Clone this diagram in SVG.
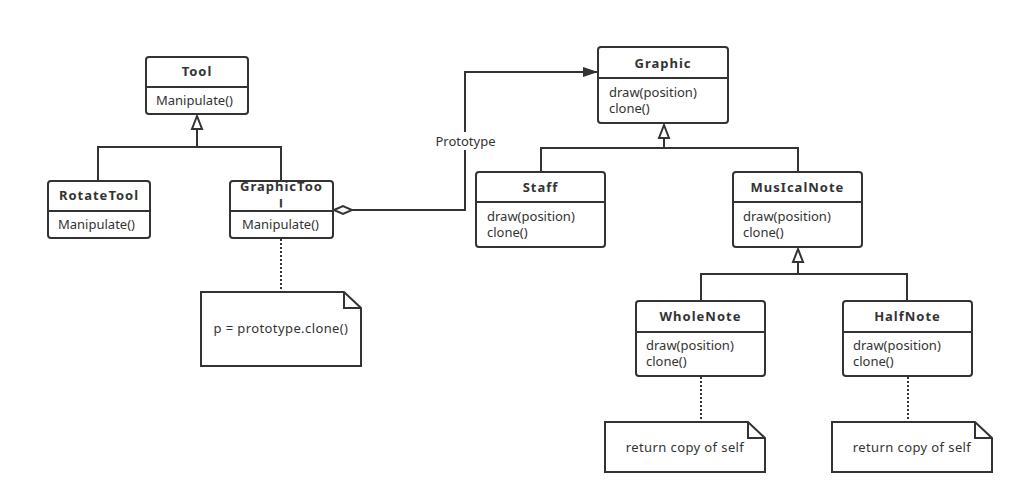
<svg xmlns="http://www.w3.org/2000/svg" width="1025" height="504" viewBox="0 0 1025 504">
<style>
.box{fill:#fff;stroke:#333;stroke-width:2}
.div{stroke:#333;stroke-width:2}
.ln{fill:none;stroke:#333;stroke-width:2}
.dot{fill:none;stroke:#333;stroke-width:2;stroke-dasharray:2 2}
.t{font-family:"Noto Sans","Open Sans",sans-serif;font-size:13px;font-weight:bold;fill:#333;text-anchor:middle;letter-spacing:1px}
.m{font-family:"Noto Sans","Open Sans",sans-serif;font-size:13px;fill:#333}
.c{text-anchor:middle}
.n{letter-spacing:0.4px}
.note{fill:#fff;stroke:#333;stroke-width:2}
</style>
<defs>
<marker id="inh" markerWidth="16" markerHeight="14" refX="14" refY="7" orient="auto" markerUnits="userSpaceOnUse">
<path d="M14,7 L1,2 L1,12 Z" fill="#fff" stroke="#333" stroke-width="2"/>
</marker>
<marker id="arr" markerWidth="16" markerHeight="12" refX="15" refY="6" orient="auto" markerUnits="userSpaceOnUse">
<path d="M0,1 L15,6 L0,11 Z" fill="#333"/>
</marker>
<marker id="dia" markerWidth="22" markerHeight="12" refX="1" refY="6" orient="auto" markerUnits="userSpaceOnUse">
<path d="M1,6 L10,2 L19,6 L10,10 Z" fill="#fff" stroke="#333" stroke-width="2"/>
</marker>
<clipPath id="gtclip"><rect x="231" y="182" width="101" height="25.5"/></clipPath>
</defs>
<g id="connectors">
<path class="ln" d="M98,181 V147 H281 V181"/>
<path class="ln" d="M197,147 V116" marker-end="url(#inh)"/>
<path class="ln" d="M541,172 V148 H798 V172"/>
<path class="ln" d="M664,148 V125" marker-end="url(#inh)"/>
<path class="ln" d="M701,301 V274 H907 V301"/>
<path class="ln" d="M798,274 V249" marker-end="url(#inh)"/>
<path class="ln" d="M334,210 H465 V72 H598" marker-start="url(#dia)" marker-end="url(#arr)"/>
<rect x="433" y="132" width="65" height="18" fill="#fff"/>
<text class="m c" x="465.5" y="146">Prototype</text>
<path class="dot" d="M281,239 V292"/>
<path class="dot" d="M701,377 V422"/>
<path class="dot" d="M908,377 V422"/>
</g>
<g id="Tool">
<rect class="box" x="146" y="57" width="102" height="57" rx="3"/>
<line class="div" x1="146" y1="87" x2="248" y2="87"/>
<text class="t" x="197" y="76">Tool</text>
<text class="m" x="156" y="105">Manipulate()</text>
</g>
<g id="RotateTool">
<rect class="box" x="48" y="181" width="102" height="57" rx="3"/>
<line class="div" x1="48" y1="211" x2="150" y2="211"/>
<text class="t" x="99" y="200">RotateTool</text>
<text class="m" x="58" y="229">Manipulate()</text>
</g>
<g id="GraphicTool">
<rect class="box" x="230" y="181" width="103" height="57" rx="3"/>
<text class="t" x="281.5" y="191">GraphicToo</text>
<text class="t" x="281.5" y="209" clip-path="url(#gtclip)">l</text>
<line class="div" x1="230" y1="211" x2="333" y2="211"/>
<text class="m" x="242" y="229">Manipulate()</text>
</g>
<g id="Note1">
<path class="note" d="M201,292 H344 L361,308 V366 H201 Z"/>
<path class="ln" d="M344,292 V308 H361"/>
<text class="m c n" x="281" y="333">p = prototype.clone()</text>
</g>
<g id="Graphic">
<rect class="box" x="598" y="47" width="130" height="76" rx="3"/>
<line class="div" x1="598" y1="78" x2="728" y2="78"/>
<text class="t" x="663" y="68">Graphic</text>
<text class="m" x="609" y="97">draw(position)</text>
<text class="m" x="609" y="113">clone()</text>
</g>
<g id="Staff">
<rect class="box" x="476" y="172" width="129" height="75" rx="3"/>
<line class="div" x1="476" y1="202" x2="605" y2="202"/>
<text class="t" x="540.5" y="192">Staff</text>
<text class="m" x="487" y="221">draw(position)</text>
<text class="m" x="487" y="237">clone()</text>
</g>
<g id="MusicalNote">
<rect class="box" x="733" y="172" width="129" height="75" rx="3"/>
<line class="div" x1="733" y1="202" x2="862" y2="202"/>
<text class="t" x="797.5" y="192">MusIcalNote</text>
<text class="m" x="743" y="221">draw(position)</text>
<text class="m" x="743" y="237">clone()</text>
</g>
<g id="WholeNote">
<rect class="box" x="636" y="301" width="129" height="75" rx="3"/>
<line class="div" x1="636" y1="332" x2="765" y2="332"/>
<text class="t" x="700.5" y="321">WholeNote</text>
<text class="m" x="646" y="350">draw(position)</text>
<text class="m" x="646" y="366">clone()</text>
</g>
<g id="HalfNote">
<rect class="box" x="843" y="301" width="129" height="75" rx="3"/>
<line class="div" x1="843" y1="332" x2="972" y2="332"/>
<text class="t" x="907.5" y="321">HalfNote</text>
<text class="m" x="853" y="350">draw(position)</text>
<text class="m" x="853" y="366">clone()</text>
</g>
<g id="Note2">
<path class="note" d="M605,422 H748 L765,438 V472 H605 Z"/>
<path class="ln" d="M748,422 V438 H765"/>
<text class="m c n" x="685" y="452">return copy of self</text>
</g>
<g id="Note3">
<path class="note" d="M832,422 H975 L992,438 V472 H832 Z"/>
<path class="ln" d="M975,422 V438 H992"/>
<text class="m c n" x="912" y="452">return copy of self</text>
</g>
</svg>
